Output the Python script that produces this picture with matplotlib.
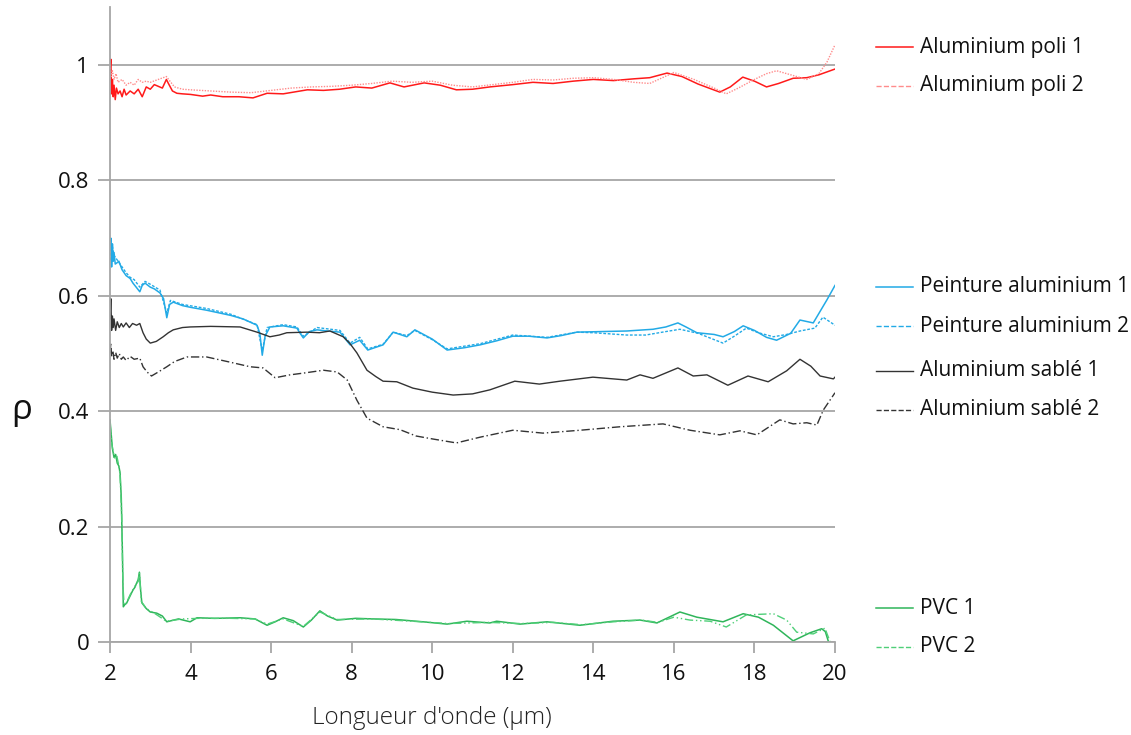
import matplotlib
matplotlib.use("Agg")
import matplotlib.pyplot as plt
from matplotlib.lines import Line2D

# ---------------- data ----------------
# Aluminium poli 1
poli1_x = [2.0, 2.02, 2.04, 2.06, 2.08, 2.1, 2.13, 2.16, 2.2, 2.25, 2.3, 2.35, 2.4, 2.5, 2.6, 2.7, 2.8, 2.9,
           3.0, 3.1, 3.2, 3.3, 3.4, 3.45, 3.55, 3.66, 3.8, 4.0, 4.3, 4.5, 4.8, 5.2, 5.55, 5.9, 6.3, 6.9, 7.3, 7.7,
           8.1, 8.5, 8.95, 9.3, 9.8, 10.2, 10.6, 11.0, 11.43, 12.0, 12.5, 13.0, 13.5, 14.0, 14.5, 15.0, 15.4,
           15.83, 16.2, 16.6, 17.14, 17.4, 17.71, 18.0, 18.3, 18.6, 18.96, 19.3, 19.6, 20.0]
poli1_y = [0.99, 1.01, 0.95, 0.975, 0.945, 0.965, 0.94, 0.96, 0.95, 0.955, 0.945, 0.958, 0.948, 0.955, 0.95, 0.958,
           0.945, 0.962, 0.958, 0.966, 0.963, 0.96, 0.975, 0.968, 0.955, 0.951, 0.950, 0.949, 0.946, 0.948, 0.945,
           0.945, 0.943, 0.951, 0.950, 0.957, 0.956, 0.958, 0.962, 0.960, 0.969, 0.962, 0.969, 0.965, 0.957,
           0.958, 0.962, 0.966, 0.970, 0.968, 0.972, 0.975, 0.973, 0.976, 0.978, 0.986, 0.980, 0.967, 0.953,
           0.962, 0.979, 0.972, 0.962, 0.968, 0.977, 0.978, 0.983, 0.993]
# Aluminium poli 2
poli2_x = [2.0, 2.03, 2.06, 2.1, 2.15, 2.2, 2.3, 2.4, 2.5, 2.6, 2.7, 2.8, 2.9, 3.0, 3.2, 3.4, 3.6, 3.8, 4.0,
           4.5, 5.0, 5.5, 6.0, 6.5, 7.0, 7.5, 8.0, 8.5, 9.0, 9.5, 10.0, 10.5, 11.0, 11.5, 12.0, 12.5, 13.0,
           13.5, 14.0, 14.5, 15.0, 15.4, 16.0, 16.5, 17.0, 17.3, 17.6, 18.0, 18.3, 18.55, 18.9, 19.3, 19.6,
           19.8, 20.0]
poli2_y = [1.00, 0.98, 0.99, 0.975, 0.985, 0.97, 0.975, 0.965, 0.97, 0.965, 0.975, 0.97, 0.972, 0.97, 0.975,
           0.98, 0.962, 0.958, 0.957, 0.955, 0.953, 0.952, 0.956, 0.960, 0.962, 0.963, 0.965, 0.968, 0.972,
           0.970, 0.972, 0.965, 0.962, 0.966, 0.970, 0.975, 0.974, 0.977, 0.978, 0.975, 0.970, 0.968, 0.987,
           0.975, 0.960, 0.950, 0.960, 0.975, 0.985, 0.990, 0.983, 0.975, 0.985, 1.005, 1.035]

# Peinture aluminium 1
peint1_x = [2.0, 2.02, 2.04, 2.06, 2.08, 2.1, 2.13, 2.17, 2.22, 2.3, 2.4, 2.5, 2.57, 2.65, 2.74, 2.8, 2.87,
            3.0, 3.1, 3.24, 3.33, 3.41, 3.48, 3.57, 3.8, 4.0, 4.4, 5.0, 5.3, 5.65, 5.72, 5.78, 5.85, 5.97,
            6.3, 6.64, 6.72, 6.8, 6.95, 7.14, 7.4, 7.71, 7.96, 8.2, 8.4, 8.78, 9.03, 9.37, 9.57, 10.0, 10.37,
            10.8, 11.19, 11.6, 12.0, 12.4, 12.85, 13.2, 13.59, 14.2, 14.83, 15.48, 15.8, 16.1, 16.3, 16.57,
            17.0, 17.22, 17.5, 17.72, 18.0, 18.3, 18.55, 18.9, 19.13, 19.46, 19.8, 20.0]
peint1_y = [0.68, 0.70, 0.65, 0.69, 0.66, 0.675, 0.655, 0.657, 0.66, 0.645, 0.635, 0.63, 0.622, 0.615, 0.607,
            0.618, 0.622, 0.615, 0.612, 0.605, 0.595, 0.562, 0.585, 0.589, 0.583, 0.580, 0.575, 0.566, 0.560,
            0.549, 0.535, 0.497, 0.530, 0.546, 0.548, 0.544, 0.535, 0.527, 0.538, 0.541, 0.539, 0.537, 0.515,
            0.523, 0.506, 0.515, 0.537, 0.529, 0.541, 0.525, 0.506, 0.510, 0.515, 0.522, 0.530, 0.530, 0.527,
            0.531, 0.537, 0.538, 0.539, 0.542, 0.546, 0.553, 0.546, 0.536, 0.533, 0.529, 0.538, 0.548, 0.540,
            0.528, 0.523, 0.535, 0.558, 0.553, 0.593, 0.618]
# Peinture aluminium 2
peint2_x = [2.0, 2.03, 2.06, 2.1, 2.15, 2.2, 2.3, 2.4, 2.5, 2.6, 2.74, 2.87, 3.0, 3.24, 3.41, 3.5, 3.8, 4.4,
            5.0, 5.65, 5.78, 5.9, 6.3, 6.64, 6.8, 7.14, 7.71, 7.96, 8.2, 8.4, 8.78, 9.03, 9.37, 9.57, 10.0,
            10.37, 11.19, 12.0, 12.85, 13.59, 14.0, 14.83, 15.3, 15.8, 16.15, 16.6, 17.22, 17.5, 17.8, 18.1,
            18.47, 18.8, 19.13, 19.5, 19.7, 20.0]
peint2_y = [0.69, 0.66, 0.685, 0.67, 0.665, 0.66, 0.65, 0.64, 0.632, 0.628, 0.615, 0.625, 0.62, 0.61, 0.57,
            0.592, 0.585, 0.578, 0.568, 0.550, 0.505, 0.545, 0.550, 0.546, 0.530, 0.545, 0.540, 0.518, 0.528,
            0.508, 0.516, 0.537, 0.531, 0.540, 0.524, 0.508, 0.517, 0.532, 0.528, 0.537, 0.536, 0.532, 0.532,
            0.538, 0.542, 0.535, 0.518, 0.530, 0.544, 0.536, 0.529, 0.533, 0.539, 0.544, 0.563, 0.549]

# Aluminium sablé 1
sable1_x = [2.0, 2.02, 2.04, 2.06, 2.08, 2.1, 2.14, 2.18, 2.23, 2.28, 2.33, 2.4, 2.48, 2.56, 2.66, 2.74,
            2.82, 2.9, 3.0, 3.15, 3.32, 3.45, 3.57, 3.8, 3.99, 4.5, 5.23, 5.65, 5.97, 6.2, 6.39, 6.89, 7.2,
            7.46, 7.79, 7.95, 8.13, 8.38, 8.6, 8.78, 9.12, 9.52, 10.0, 10.52, 11.0, 11.43, 12.05, 12.66,
            13.17, 13.99, 14.83, 15.16, 15.48, 16.1, 16.48, 16.82, 17.34, 17.84, 18.34, 18.8, 19.13, 19.4,
            19.63, 19.96, 20.0]
sable1_y = [0.56, 0.595, 0.54, 0.565, 0.545, 0.56, 0.54, 0.555, 0.545, 0.552, 0.546, 0.553, 0.545, 0.552,
            0.549, 0.552, 0.536, 0.525, 0.518, 0.521, 0.529, 0.536, 0.541, 0.545, 0.546, 0.547, 0.546, 0.537,
            0.529, 0.532, 0.536, 0.537, 0.536, 0.539, 0.529, 0.518, 0.501, 0.471, 0.460, 0.452, 0.451, 0.440,
            0.433, 0.428, 0.430, 0.437, 0.452, 0.447, 0.452, 0.459, 0.454, 0.463, 0.457, 0.475, 0.461, 0.463,
            0.445, 0.461, 0.451, 0.470, 0.490, 0.478, 0.461, 0.456, 0.459]
# Aluminium sablé 2
sable2_x = [2.0, 2.02, 2.04, 2.07, 2.1, 2.14, 2.18, 2.23, 2.28, 2.33, 2.4, 2.5, 2.6, 2.74, 2.82, 2.92, 3.03,
            3.2, 3.41, 3.6, 3.91, 4.4, 4.98, 5.48, 5.8, 6.1, 6.47, 6.8, 7.3, 7.64, 7.89, 8.13, 8.38, 8.78,
            9.2, 9.6, 10.0, 10.6, 11.19, 12.0, 12.75, 13.67, 14.66, 15.73, 16.4, 17.14, 17.64, 18.06,
            18.63, 18.96, 19.3, 19.55, 19.71, 20.0]
sable2_y = [0.50, 0.518, 0.495, 0.505, 0.49, 0.502, 0.492, 0.5, 0.49, 0.494, 0.488, 0.495, 0.49, 0.492, 0.477,
            0.468, 0.461, 0.468, 0.477, 0.486, 0.494, 0.494, 0.485, 0.477, 0.475, 0.458, 0.463, 0.466, 0.471,
            0.468, 0.454, 0.419, 0.388, 0.373, 0.368, 0.357, 0.352, 0.345, 0.355, 0.367, 0.362, 0.367, 0.373,
            0.378, 0.367, 0.359, 0.366, 0.359, 0.385, 0.378, 0.380, 0.376, 0.402, 0.432]

# PVC 1
pvc1_x = [2.0, 2.03, 2.06, 2.1, 2.14, 2.18, 2.22, 2.25, 2.28, 2.31, 2.33, 2.37, 2.41, 2.5, 2.57, 2.62, 2.66,
          2.7, 2.73, 2.76, 2.79, 2.9, 3.0, 3.16, 3.3, 3.41, 3.7, 3.99, 4.16, 4.6, 5.23, 5.6, 5.9, 6.1, 6.3,
          6.55, 6.8, 7.0, 7.21, 7.4, 7.64, 8.1, 8.53, 9.1, 9.77, 10.37, 10.86, 11.43, 11.6, 12.18, 12.85,
          13.67, 14.49, 15.16, 15.58, 16.15, 16.57, 17.22, 17.72, 18.1, 18.47, 18.96, 19.38, 19.67, 19.76,
          19.84]
pvc1_y = [0.385, 0.36, 0.335, 0.32, 0.325, 0.31, 0.305, 0.293, 0.25, 0.15, 0.061, 0.065, 0.067, 0.08, 0.09,
          0.095, 0.102, 0.108, 0.121, 0.09, 0.068, 0.058, 0.052, 0.050, 0.045, 0.035, 0.040, 0.035, 0.042,
          0.041, 0.042, 0.040, 0.029, 0.035, 0.042, 0.037, 0.026, 0.038, 0.054, 0.045, 0.038, 0.041, 0.040,
          0.039, 0.035, 0.031, 0.036, 0.033, 0.036, 0.031, 0.035, 0.029, 0.036, 0.038, 0.033, 0.052, 0.043,
          0.035, 0.049, 0.043, 0.029, 0.002, 0.016, 0.023, 0.018, 0.0]
# PVC 2
pvc2_x = [2.0, 2.04, 2.08, 2.12, 2.17, 2.22, 2.25, 2.29, 2.32, 2.35, 2.41, 2.5, 2.6, 2.7, 2.73, 2.78, 2.9,
          3.1, 3.4, 3.8, 4.2, 5.0, 5.6, 5.9, 6.3, 6.8, 7.21, 7.64, 8.5, 9.5, 10.4, 11.4, 12.2, 13.0, 13.7,
          14.5, 15.2, 15.6, 16.0, 16.4, 16.9, 17.3, 17.8, 18.47, 18.8, 19.05, 19.46, 19.75, 19.88]
pvc2_y = [0.38, 0.345, 0.33, 0.318, 0.322, 0.305, 0.29, 0.22, 0.10, 0.064, 0.068, 0.082, 0.095, 0.105, 0.12,
          0.07, 0.058, 0.05, 0.036, 0.040, 0.041, 0.041, 0.040, 0.031, 0.040, 0.027, 0.052, 0.039, 0.040,
          0.036, 0.032, 0.034, 0.032, 0.034, 0.030, 0.035, 0.038, 0.034, 0.043, 0.038, 0.036, 0.026, 0.047,
          0.049, 0.038, 0.017, 0.014, 0.024, 0.0]

x_ticks = [2, 4, 6, 8, 10, 12, 14, 16, 18, 20]
y_ticks = [0, 0.2, 0.4, 0.6, 0.8, 1.0]
y_ticklabels = ["0", "0.2", "0.4", "0.6", "0.8", "1"]
x_label = "Longueur d'onde (µm)"
y_label = "ρ"

# ---------------- styles ----------------
RED = "#ff1a1a"
RED2 = "#ff8c8c"
BLUE = "#22aae6"
BLACK = "#333333"
GREEN = "#2fb55a"
GREEN2 = "#4fcf78"
GRID = "#a6a6a6"

series = [
    ("Aluminium poli 1", poli1_x, poli1_y, dict(color=RED, lw=1.1, ls="-")),
    ("Aluminium poli 2", poli2_x, poli2_y, dict(color=RED2, lw=1.0, ls=(0, (1, 1)))),
    ("Peinture aluminium 1", peint1_x, peint1_y, dict(color=BLUE, lw=1.1, ls="-")),
    ("Peinture aluminium 2", peint2_x, peint2_y, dict(color=BLUE, lw=1.0, ls=(0, (2, 1.2)))),
    ("Aluminium sablé 1", sable1_x, sable1_y, dict(color=BLACK, lw=1.0, ls="-")),
    ("Aluminium sablé 2", sable2_x, sable2_y, dict(color=BLACK, lw=1.0, ls=(0, (6, 2, 1, 2)))),
    ("PVC 1", pvc1_x, pvc1_y, dict(color=GREEN, lw=1.1, ls="-")),
    ("PVC 2", pvc2_x, pvc2_y, dict(color=GREEN2, lw=1.0, ls=(0, (6, 2, 1, 2, 1, 2)))),
]

FONT = ["Open Sans", "DejaVu Sans"]
plt.rcParams["font.family"] = FONT

fig = plt.figure(figsize=(11.31, 7.35), dpi=100)
W, H = 1131, 735
x0, x1 = 110, 835
y_zero, y_one = 642, 65
ymax = 1.1
ax_top = y_zero - (y_zero - y_one) * ymax
ax = fig.add_axes([x0 / W, 1 - y_zero / H, (x1 - x0) / W, (y_zero - ax_top) / H])

lines = {}
for name, xs, ys, st in series:
    ln, = ax.plot(xs, ys, label=name, solid_joinstyle="round", **st)
    lines[name] = ln

ax.set_xlim(2, 20)
ax.set_ylim(0, ymax)
ax.set_xticks(x_ticks)
ax.set_yticks(y_ticks)
ax.set_yticklabels(y_ticklabels)
ax.yaxis.grid(True, color=GRID, lw=1.3)
ax.set_axisbelow(True)
for s in ["top", "right"]:
    ax.spines[s].set_visible(False)
ax.spines["left"].set_color(GRID)
ax.spines["bottom"].set_color(GRID)
ax.spines["left"].set_linewidth(1.3)
ax.spines["bottom"].set_linewidth(1.3)
ax.tick_params(axis="y", length=9, width=1.3, color=GRID, labelsize=16, pad=6, labelcolor="#111111")
ax.tick_params(axis="x", length=8, width=1.3, color=GRID, labelsize=16, pad=8, labelcolor="#111111")

fig.text(432 / W, 1 - 718 / H, x_label, ha="center", va="center", fontsize=17.5,
         fontweight="light", color="#222222")
fig.text(22 / W, 1 - 410 / H, y_label, ha="center", va="center", fontsize=25, color="#111111")

# legend entries placed beside their curves
legend_rows = [("Aluminium poli 1", 47), ("Aluminium poli 2", 86),
               ("Peinture aluminium 1", 287), ("Peinture aluminium 2", 326),
               ("Aluminium sablé 1", 371), ("Aluminium sablé 2", 410),
               ("PVC 1", 608), ("PVC 2", 647)]
for name, yp in legend_rows:
    ln = lines[name]
    fy = 1 - yp / H
    fig.add_artist(Line2D([876 / W, 913 / W], [fy, fy], color=ln.get_color(),
                          lw=ln.get_linewidth(), ls=ln.get_linestyle(), transform=fig.transFigure))
    fig.text(920 / W, fy, name, ha="left", va="center", fontsize=15, color="#111111")

fig.savefig("out.png", dpi=100)
